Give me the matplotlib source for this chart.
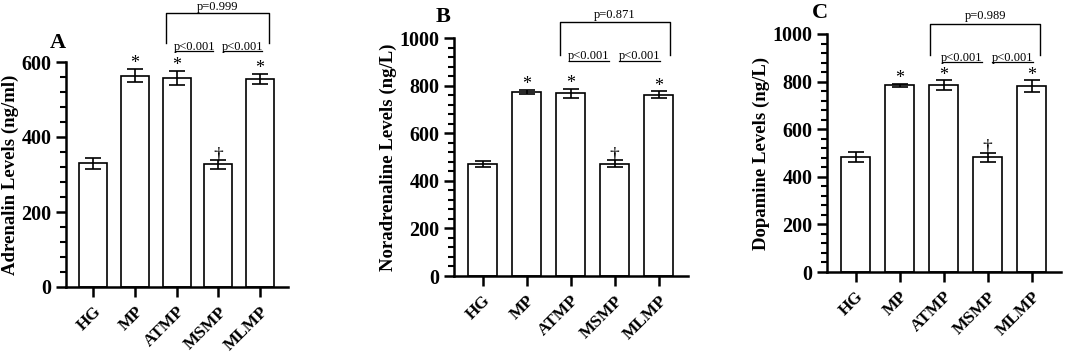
import matplotlib
matplotlib.use("Agg")
import matplotlib.pyplot as plt
from matplotlib.ticker import MultipleLocator

plt.rcParams['font.family'] = ['Liberation Serif', 'DejaVu Serif']

groups = ["HG", "MP", "ATMP", "MSMP", "MLMP"]

adrenalin = [330, 564, 558, 327, 555]
adrenalin_err = [15, 17, 18, 12, 13]
noradrenaline = [470, 773, 767, 472, 761]
noradrenaline_err = [12, 10, 19, 15, 15]
dopamine = [485, 785, 785, 482, 780]
dopamine_err = [21, 6, 20, 20, 25]

marks = ["", "*", "*", "\u2020", "*"]
p_wide = ["p=0.999", "p=0.871", "p=0.989"]
p_narrow = "p<0.001"

W, H = 1065, 357
fig = plt.figure(figsize=(W / 100, H / 100), dpi=100)


def px_rect(l, r, b, t):
    return [l / W, 1 - b / H, (r - l) / W, (b - t) / H]


panels = [
    dict(rect=px_rect(66, 288, 287, 62), vals=adrenalin, errs=adrenalin_err,
         ymax=600, ylabel="Adrenalin Levels (ng/ml)", letter="A", lxy=(58, 43),
         pw=p_wide[0], mark_off=14,
         brk=(1.75, 4.22, 731, 651), ptop=747, pn_y=640, ul=629),
    dict(rect=px_rect(454, 688, 276, 38), vals=noradrenaline, errs=noradrenaline_err,
         ymax=1000, ylabel="Noradrenaline Levels (ng/L)", letter="B", lxy=(443, 17),
         pw=p_wide[1], mark_off=22,
         brk=(1.75, 4.25, 1066, 930), ptop=1098, pn_y=923, ul=902),
    dict(rect=px_rect(827, 1061, 272, 34), vals=dopamine, errs=dopamine_err,
         ymax=1000, ylabel="Dopamine Levels (ng/L)", letter="C", lxy=(820, 13),
         pw=p_wide[2], mark_off=22,
         brk=(1.69, 4.2, 1044, 913), ptop=1077, pn_y=899, ul=881),
]

x = range(len(groups))
for p in panels:
    ax = fig.add_axes(p["rect"])
    ax.bar(x, p["vals"], width=0.67, color="white", edgecolor="black", linewidth=1.2)
    ax.errorbar(x, p["vals"], yerr=p["errs"], fmt="none", ecolor="black",
                elinewidth=1.2, capsize=6, capthick=1.2)
    ax.set_xlim(-0.65, 4.67)
    ax.set_ylim(0, p["ymax"])
    ax.yaxis.set_major_locator(MultipleLocator(200))
    ax.yaxis.set_minor_locator(MultipleLocator(40))
    for s in ["top", "right"]:
        ax.spines[s].set_visible(False)
    for s in ["left", "bottom"]:
        ax.spines[s].set_linewidth(1.8)
    ax.tick_params(axis="y", which="major", length=7, width=1.8, labelsize=14.5)
    ax.tick_params(axis="y", which="minor", length=4, width=1.5)
    ax.tick_params(axis="x", length=7, width=1.8, labelsize=12.5, pad=5)
    ax.set_xticks(list(x))
    ax.set_xticklabels(groups, rotation=45, ha="right", rotation_mode="anchor",
                       fontweight="bold")
    for lab in ax.get_yticklabels():
        lab.set_fontweight("bold")
    ax.set_ylabel(p["ylabel"], fontsize=13.5, fontweight="bold", labelpad=2)

    for i, m in enumerate(marks):
        if m:
            fs = 14 if m == "\u2020" else 13
            ax.text(i, p["vals"][i] + p["errs"][i] + p["mark_off"], m,
                    ha="center", va="center", fontsize=fs, clip_on=False)

    x0, x1, ytop, ybot = p["brk"]
    ax.plot([x0, x0, x1, x1], [ybot, ytop, ytop, ybot], color="black",
            lw=1.0, clip_on=False)
    ax.text((x0 + x1) / 2, p["ptop"], p["pw"], ha="center", va="center",
            fontsize=9, clip_on=False)
    for a, b in [(1.96, 2.88), (3.11, 4.04)]:
        ax.text((a + b) / 2, p["pn_y"], p_narrow, ha="center", va="center",
                fontsize=9, clip_on=False)
        ax.plot([a, b], [p["ul"], p["ul"]], color="black", lw=0.9, clip_on=False)

    fig.text(p["lxy"][0] / W, 1 - p["lxy"][1] / H, p["letter"], ha="center",
             va="center", fontsize=16, fontweight="bold")

fig.savefig("out.png", dpi=100)
